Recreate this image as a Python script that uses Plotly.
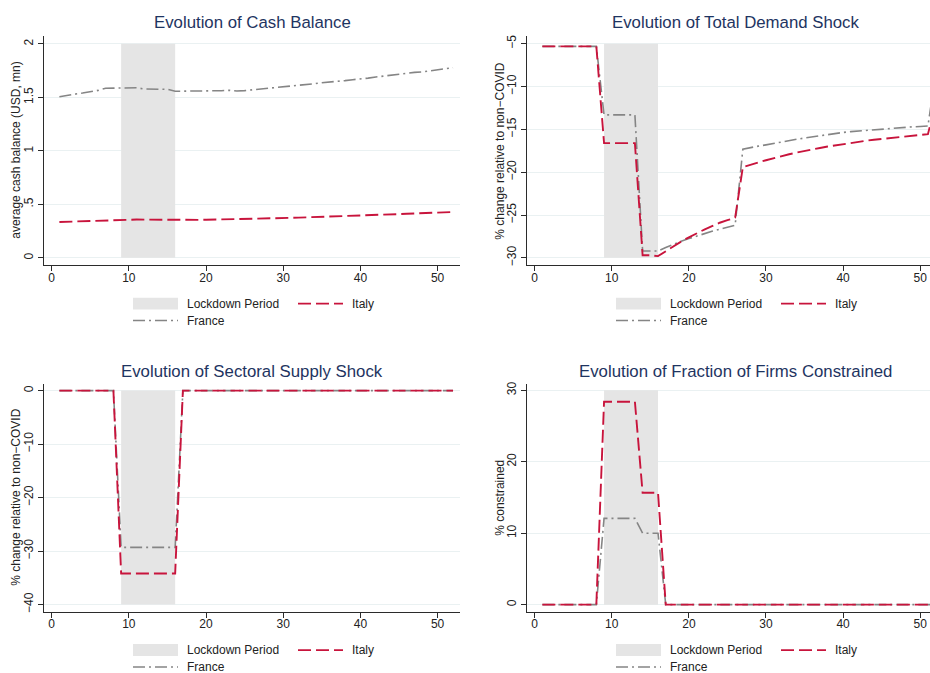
import plotly.graph_objects as go

W, H = 930, 673

weeks = list(range(1, 53))
lockdown_start, lockdown_end = 9, 16

cash_italy = [0.335, 0.338, 0.341, 0.344, 0.347, 0.350, 0.353, 0.355, 0.357, 0.358,
              0.358, 0.357, 0.356, 0.355, 0.354, 0.352, 0.353, 0.354, 0.355, 0.356,
              0.357, 0.358, 0.359, 0.360, 0.362, 0.364, 0.366, 0.368, 0.370, 0.372,
              0.374, 0.376, 0.378, 0.380, 0.382, 0.384, 0.386, 0.388, 0.391, 0.394,
              0.397, 0.400, 0.403, 0.406, 0.409, 0.412, 0.415, 0.418, 0.420, 0.423,
              0.425, 0.428]
cash_france = [1.505, 1.520, 1.530, 1.540, 1.550, 1.565, 1.585, 1.588, 1.590, 1.591,
               1.590, 1.578, 1.576, 1.576, 1.575, 1.557, 1.558, 1.558, 1.556, 1.555,
               1.558, 1.562, 1.566, 1.560, 1.563, 1.570, 1.576, 1.582, 1.590, 1.598,
               1.604, 1.606, 1.615, 1.627, 1.637, 1.642, 1.647, 1.656, 1.665, 1.670,
               1.680, 1.690, 1.700, 1.708, 1.715, 1.724, 1.733, 1.738, 1.748, 1.760,
               1.770, 1.777]

demand_italy = [-5.3] * 8 + [-16.6] * 5 + [-29.7, -29.7, -29.8] + \
               [-29.2, -28.6, -28.1, -27.6, -27.1, -26.7, -26.3, -25.9, -25.6, -25.3] + \
               [-19.4, -19.1, -18.85, -18.6, -18.35, -18.12, -17.9, -17.7, -17.5, -17.33,
                -17.17, -17.0, -16.85, -16.7, -16.57, -16.44, -16.32, -16.2, -16.1, -16.0,
                -15.9, -15.81, -15.72, -15.64, -15.56, -12.0]
demand_france = [-5.3] * 8 + [-13.3] * 5 + [-29.2, -29.2, -29.2] + \
                [-28.8, -28.4, -28.05, -27.75, -27.45, -27.15, -26.9, -26.65, -26.4, -26.2] + \
                [-17.3, -17.1, -16.95, -16.8, -16.62, -16.46, -16.3, -16.15, -16.0, -15.86,
                 -15.73, -15.6, -15.47, -15.35, -15.26, -15.18, -15.1, -15.02, -14.95, -14.88,
                 -14.82, -14.76, -14.7, -14.65, -14.6, -8.5]

supply_italy = [0.0] * 8 + [-34.2] * 8 + [0.0] * 36
supply_france = [0.0] * 8 + [-29.3] * 8 + [0.0] * 36

constr_italy = [0.0] * 8 + [28.4] * 5 + [15.65] * 3 + [0.0] * 36
constr_france = [0.0] * 8 + [12.07] * 5 + [10.0] * 3 + [0.0] * 36

x_ticks = [0, 10, 20, 30, 40, 50]
panels = [
    dict(title="Evolution of Cash Balance", ytitle="average cash balance (USD, mn)",
         it=cash_italy, fr=cash_france, yticks=[0, 0.5, 1, 1.5, 2],
         yticktext=["0", ".5", "1", "1.5", "2"], yr=[-0.068, 2.072], shade=[0, 2]),
    dict(title="Evolution of Total Demand Shock", ytitle="% change relative to non\u2212COVID",
         it=demand_italy, fr=demand_france, yticks=[-30, -25, -20, -15, -10, -5],
         yticktext=["\u221230", "\u221225", "\u221220", "\u221215", "\u221210", "\u22125"],
         yr=[-30.85, -4.105], shade=[-30, -5]),
    dict(title="Evolution of Sectoral Supply Shock", ytitle="% change relative to non\u2212COVID",
         it=supply_italy, fr=supply_france, yticks=[-40, -30, -20, -10, 0],
         yticktext=["\u221240", "\u221230", "\u221220", "\u221210", "0"],
         yr=[-41.37, 1.30], shade=[-40, 0]),
    dict(title="Evolution of Fraction of Firms Constrained", ytitle="% constrained",
         it=constr_italy, fr=constr_france, yticks=[0, 10, 20, 30],
         yticktext=["0", "10", "20", "30"], yr=[-1.02, 30.93], shade=[0, 30]),
]

# pixel geometry of each panel: (left, right, top, bottom, xrange)
geo = [
    (44.33, 460.0, 34.3, 264.3, [-0.95, 52.9]),
    (527.33, 930.0, 34.3, 264.3, [-0.95, 51.27]),
    (44.33, 460.0, 383.33, 612.67, [-0.95, 52.9]),
    (527.33, 930.0, 383.33, 612.67, [-0.95, 51.27]),
]
title_pos = [(252, 21), (735.7, 21), (252, 370.7), (735.7, 370.7)]
ytitle_x = [16, 500, 16, 500]
legend_off = [(0, 0), (483, 0), (0, 348), (483, 348)]

ITALY = "#c8143c"
FRANCE = "#858585"
SHADE = "#e5e5e5"
TITLE = "#1e3461"
AX = "#2b2b2b"
GRID = "#eaf1f2"
FONT = "Liberation Sans, Arial, sans-serif"

def px(x):
    return x / W

def py(y):
    return 1 - y / H

fig = go.Figure()
annotations = []
shapes = []

for i, (p, g) in enumerate(zip(panels, geo)):
    n = i + 1
    xa = "x" if n == 1 else f"x{n}"
    ya = "y" if n == 1 else f"y{n}"
    l, r, t, b, xr = g
    s0, s1 = p["shade"]
    fig.add_trace(go.Scatter(
        x=[lockdown_start, lockdown_end, lockdown_end, lockdown_start, lockdown_start],
        y=[s0, s0, s1, s1, s0], fill="toself", fillcolor=SHADE, mode="lines",
        line=dict(width=0, color=SHADE), xaxis=xa, yaxis=ya, showlegend=False,
        hoverinfo="skip"))
    fig.add_trace(go.Scatter(x=weeks, y=p["fr"], mode="lines", name="France",
                             line=dict(color=FRANCE, width=1.6, dash="12px,4px,2px,4px"),
                             xaxis=xa, yaxis=ya, showlegend=False))
    fig.add_trace(go.Scatter(x=weeks, y=p["it"], mode="lines", name="Italy",
                             line=dict(color=ITALY, width=1.9, dash="13px,5px"),
                             xaxis=xa, yaxis=ya, showlegend=False))
    xkey = "xaxis" if n == 1 else f"xaxis{n}"
    ykey = "yaxis" if n == 1 else f"yaxis{n}"
    fig.update_layout(**{
        xkey: dict(domain=[px(l), min(1.0, px(r))], range=xr, anchor=ya, showgrid=False,
                   zeroline=False, showline=True, linecolor=AX, linewidth=1.3,
                   ticks="outside", ticklen=5, tickwidth=1.1, tickcolor=AX,
                   tickvals=x_ticks, ticktext=[str(v) for v in x_ticks],
                   ticklabelstandoff=-4,
                   tickfont=dict(size=12, color="#222", family=FONT)),
        ykey: dict(domain=[py(b), py(t)], range=p["yr"], anchor=xa, showgrid=True,
                   gridcolor=GRID, gridwidth=1, zeroline=False, showline=True,
                   linecolor=AX, linewidth=1.3, ticks="outside", ticklen=5,
                   tickwidth=1.1, tickcolor=AX, tickvals=p["yticks"],
                   ticktext=p["yticktext"], tickangle=-90,
                   tickfont=dict(size=12, color="#222", family=FONT)),
    })
    tx, ty = title_pos[i]
    annotations.append(dict(text=p["title"], x=px(tx), y=py(ty), xref="paper", yref="paper",
                            xanchor="center", yanchor="middle", showarrow=False,
                            font=dict(size=16.8, color=TITLE, family=FONT)))
    annotations.append(dict(text=p["ytitle"], x=px(ytitle_x[i]), y=py((t + b) / 2),
                            xref="paper", yref="paper", xanchor="center", yanchor="middle",
                            textangle=-90, showarrow=False,
                            font=dict(size=12, color="#222", family=FONT)))
    ox, oy = legend_off[i]
    shapes.append(dict(type="rect", xref="paper", yref="paper",
                       x0=px(133 + ox), x1=px(178 + ox), y0=py(309 + oy), y1=py(297 + oy),
                       fillcolor=SHADE, line=dict(width=0)))
    shapes.append(dict(type="line", xref="paper", yref="paper",
                       x0=px(298 + ox), x1=px(343 + ox), y0=py(303 + oy), y1=py(303 + oy),
                       line=dict(color=ITALY, width=1.9, dash="13px,5px")))
    shapes.append(dict(type="line", xref="paper", yref="paper",
                       x0=px(133 + ox), x1=px(178 + ox), y0=py(320 + oy), y1=py(320 + oy),
                       line=dict(color=FRANCE, width=1.6, dash="12px,4px,2px,4px")))
    for txt, lx, ly in [("Lockdown Period", 185, 303), ("Italy", 350, 303), ("France", 185, 320)]:
        annotations.append(dict(text=txt, x=px(lx + ox), y=py(ly + oy), xref="paper",
                                yref="paper", xanchor="left", yanchor="middle",
                                showarrow=False, font=dict(size=12, color="#222", family=FONT)))

fig.update_layout(width=W, height=H, margin=dict(l=0, r=0, t=0, b=0),
                  paper_bgcolor="white", plot_bgcolor="white", showlegend=False,
                  annotations=annotations, shapes=shapes,
                  font=dict(family=FONT))

fig.write_html("out.html", config={"displayModeBar": False},
               post_script="document.body.style.margin='0';"
                           "document.documentElement.style.overflow='hidden';")
